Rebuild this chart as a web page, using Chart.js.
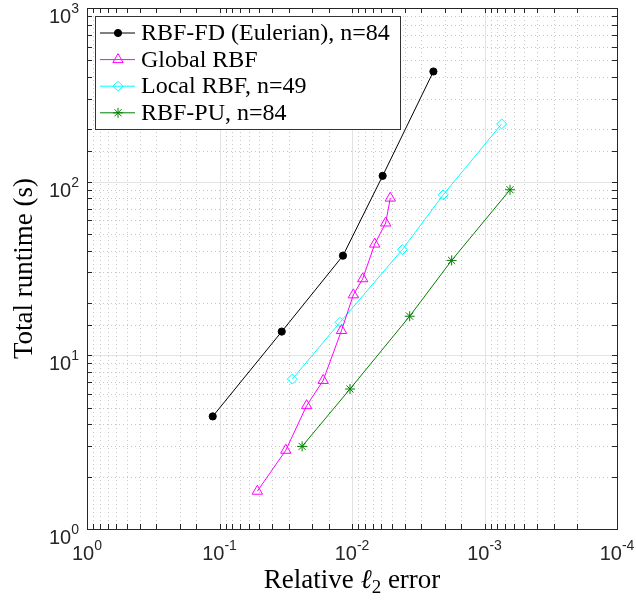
<!DOCTYPE html>
<html lang="en">
  <head>
    <meta charset="UTF-8" />
    <title>Total runtime vs relative error</title>
    <script src="https://cdn.jsdelivr.net/npm/chart.js"></script>
    <style>
      html,
      body {
        margin: 0;
        padding: 0;
        background: #fff;
      }
      .wrap {
        width: 636px;
        height: 600px;
      }
    </style>
  </head>
  <body>
    <div class="wrap"><canvas id="c" width="636" height="600"></canvas></div>

    <script>
      // values
      const fdErr = [0.1125, 0.0339, 0.0117, 0.00587, 0.00243];
      const fdTime = [4.45, 13.7, 37.5, 108, 431];
      const globalErr = [0.0518, 0.0316, 0.022, 0.0165, 0.012, 0.00977, 0.0083, 0.00674, 0.00557, 0.00514];
      const globalTime = [1.65, 2.84, 5.13, 7.17, 13.9, 22.3, 27.6, 43.7, 57.8, 80.4];
      const localErr = [0.0282, 0.0123, 0.00417, 0.00205, 0.000742];
      const localTime = [7.3, 15.5, 40.6, 84.0, 215];
      const puErr = [0.0238, 0.01035, 0.00367, 0.00177, 0.000642];
      const puTime = [2.99, 6.4, 16.8, 35.2, 89.8];

      const seriesNames = ["RBF-FD (Eulerian), n=84", "Global RBF", "Local RBF, n=49", "RBF-PU, n=84"];
      const xTickValues = [1, 0.1, 0.01, 0.001, 0.0001];
      const xTickExps = ["0", "-1", "-2", "-3", "-4"];
      const yTickValues = [1, 10, 100, 1000];
      const yTickExps = ["0", "1", "2", "3"];

      function pts(xs, ys) {
        return xs.map((x, i) => ({ x: x, y: ys[i] }));
      }

      const SERIF = '"Liberation Serif", "DejaVu Serif", serif';
      const SANS = '"Liberation Sans", Arial, sans-serif';
      const AXIS = "#262626";

      const matlabAxes = {
        id: "matlabAxes",
        beforeDatasetsDraw(chart) {
          const ctx = chart.ctx;
          const a = chart.chartArea;
          const xs = chart.scales.x;
          const ys = chart.scales.y;
          const isMajor = (v) => Math.abs(Math.log10(v) - Math.round(Math.log10(v))) < 1e-6;
          ctx.save();
          ctx.lineWidth = 1;
          // minor dotted grid first, then major solid
          [false, true].forEach((major) => {
            ctx.strokeStyle = major ? "#e3e3e3" : "#c8c8c8";
            ctx.setLineDash(major ? [] : [1, 3]);
            xs.ticks.forEach((t) => {
              if (isMajor(t.value) !== major) return;
              const px = Math.round(xs.getPixelForValue(t.value)) + 0.5;
              ctx.beginPath();
              ctx.moveTo(px, a.top);
              ctx.lineTo(px, a.bottom);
              ctx.stroke();
            });
            ys.ticks.forEach((t) => {
              if (isMajor(t.value) !== major) return;
              const py = Math.round(ys.getPixelForValue(t.value)) + 0.5;
              ctx.beginPath();
              ctx.moveTo(a.left, py);
              ctx.lineTo(a.right, py);
              ctx.stroke();
            });
          });
          ctx.restore();
        },
        afterDatasetsDraw(chart) {
          const ctx = chart.ctx;
          const a = chart.chartArea;
          const xs = chart.scales.x;
          const ys = chart.scales.y;
          ctx.save();
          ctx.setLineDash([]);
          ctx.strokeStyle = AXIS;
          ctx.lineWidth = 1;

          // inward tick marks on all four sides
          xs.ticks.forEach((t) => {
            const px = Math.round(xs.getPixelForValue(t.value)) + 0.5;
            ctx.beginPath();
            ctx.moveTo(px, a.bottom);
            ctx.lineTo(px, a.bottom - 5);
            ctx.moveTo(px, a.top);
            ctx.lineTo(px, a.top + 5);
            ctx.stroke();
          });
          ys.ticks.forEach((t) => {
            const py = Math.round(ys.getPixelForValue(t.value)) + 0.5;
            ctx.beginPath();
            ctx.moveTo(a.left, py);
            ctx.lineTo(a.left + 5, py);
            ctx.moveTo(a.right, py);
            ctx.lineTo(a.right - 5, py);
            ctx.stroke();
          });
          ctx.strokeRect(Math.round(a.left) + 0.5, Math.round(a.top) + 0.5, Math.round(a.right - a.left), Math.round(a.bottom - a.top));

          // tick labels 10^n
          ctx.fillStyle = "#262626";
          ctx.textBaseline = "alphabetic";
          ctx.textAlign = "left";
          const baseFont = "20px " + SANS;
          const expFont = "14px " + SANS;
          xTickValues.forEach((v, i) => {
            const px = xs.getPixelForValue(v);
            ctx.font = baseFont;
            const w1 = ctx.measureText("10").width;
            ctx.font = expFont;
            const w2 = ctx.measureText(xTickExps[i]).width;
            const x0 = px - (w1 + w2) / 2;
            ctx.font = baseFont;
            ctx.fillText("10", x0, 560);
            ctx.font = expFont;
            ctx.fillText(xTickExps[i], x0 + w1, 550);
          });
          yTickValues.forEach((v, i) => {
            const py = ys.getPixelForValue(v);
            ctx.font = expFont;
            const w2 = ctx.measureText(yTickExps[i]).width;
            ctx.font = baseFont;
            const w1 = ctx.measureText("10").width;
            const x0 = 79 - w2 - w1;
            ctx.fillText("10", x0, py + 15);
            ctx.font = expFont;
            ctx.fillText(yTickExps[i], x0 + w1, py + 5);
          });

          // axis titles
          ctx.fillStyle = "#000";
          const labelSize = 27;
          const cx = (a.left + a.right) / 2;
          const p1 = "Relative ";
          const p2 = "\u2113";
          const p3 = "2";
          const p4 = " error";
          const fMain = labelSize + "px " + SERIF;
          const fEll = "italic " + labelSize + "px " + SERIF;
          const fSub = Math.round(labelSize * 0.7) + "px " + SERIF;
          ctx.font = fMain;
          const w1 = ctx.measureText(p1).width;
          ctx.font = fEll;
          const w2 = ctx.measureText(p2).width;
          ctx.font = fSub;
          const w3 = ctx.measureText(p3).width;
          ctx.font = fMain;
          const w4 = ctx.measureText(p4).width;
          let tx = cx - (w1 + w2 + w3 + w4) / 2;
          const by = 588;
          ctx.fillText(p1, tx, by);
          tx += w1;
          ctx.font = fEll;
          ctx.fillText(p2, tx, by);
          tx += w2;
          ctx.font = fSub;
          ctx.fillText(p3, tx, by + 5);
          tx += w3;
          ctx.font = fMain;
          ctx.fillText(p4, tx, by);

          ctx.save();
          ctx.translate(25, (a.top + a.bottom) / 2);
          ctx.rotate(-Math.PI / 2);
          ctx.textAlign = "center";
          ctx.textBaseline = "middle";
          ctx.font = fMain;
          ctx.fillText("Total runtime (s)", 0, 0);
          ctx.restore();

          // legend box inside the axes
          const lx = 95.5, ly = 16.5, lw = 305, lh = 113;
          ctx.fillStyle = "#fff";
          ctx.fillRect(lx, ly, lw, lh);
          ctx.strokeStyle = "#333";
          ctx.strokeRect(lx, ly, lw, lh);
          chart.data.datasets.forEach((ds, i) => {
            const y = 33 + i * 26.6;
            ctx.strokeStyle = ds.borderColor;
            ctx.lineWidth = 1;
            ctx.beginPath();
            ctx.moveTo(100, y);
            ctx.lineTo(135, y);
            ctx.stroke();
            ctx.fillStyle = ds.pointBackgroundColor;
            ctx.strokeStyle = ds.borderColor;
            Chart.helpers.drawPoint(
              ctx,
              {
                pointStyle: ds.pointStyle,
                radius: ds.pointRadius,
                borderWidth: 1,
                rotation: 0,
              },
              118,
              y
            );
            ctx.fillStyle = "#000";
            ctx.font = "24px " + SERIF;
            ctx.textAlign = "left";
            ctx.textBaseline = "middle";
            ctx.fillText(seriesNames[i], 141, y + 1);
          });
          ctx.restore();
        },
      };

      const ctx = document.getElementById("c").getContext("2d");
      const chart = new Chart(ctx, {
        type: "scatter",
        data: {
          datasets: [
            {
              label: seriesNames[0],
              data: pts(fdErr, fdTime),
              showLine: true,
              borderColor: "#000000",
              backgroundColor: "#000000",
              pointBackgroundColor: "#000000",
              borderWidth: 1,
              pointStyle: "circle",
              pointRadius: 3.6,
              pointBorderWidth: 1,
            },
            {
              label: seriesNames[1],
              data: pts(globalErr, globalTime),
              showLine: true,
              borderColor: "#ff00ff",
              backgroundColor: "rgba(0,0,0,0)",
              pointBackgroundColor: "rgba(0,0,0,0)",
              borderWidth: 1,
              pointStyle: "triangle",
              pointRadius: 6,
              pointBorderWidth: 1,
            },
            {
              label: seriesNames[2],
              data: pts(localErr, localTime),
              showLine: true,
              borderColor: "#00ffff",
              backgroundColor: "rgba(0,0,0,0)",
              pointBackgroundColor: "rgba(0,0,0,0)",
              borderWidth: 1,
              pointStyle: "rectRot",
              pointRadius: 5,
              pointBorderWidth: 1,
            },
            {
              label: seriesNames[3],
              data: pts(puErr, puTime),
              showLine: true,
              borderColor: "#008000",
              backgroundColor: "#008000",
              pointBackgroundColor: "rgba(0,0,0,0)",
              borderWidth: 1,
              pointStyle: "star",
              pointRadius: 5,
              pointBorderWidth: 1,
            },
          ],
        },
        options: {
          responsive: false,
          animation: false,
          layout: { padding: { left: 87, right: 19, top: 8, bottom: 71 } },
          plugins: {
            legend: { display: false },
            tooltip: { enabled: false },
          },
          scales: {
            x: {
              type: "logarithmic",
              reverse: true,
              min: 0.0001,
              max: 1,
              grid: { display: false, drawTicks: false, tickLength: 0 },
              border: { display: false },
              ticks: { display: false },
            },
            y: {
              type: "logarithmic",
              min: 1,
              max: 1000,
              grid: { display: false, drawTicks: false, tickLength: 0 },
              border: { display: false },
              ticks: { display: false },
            },
          },
        },
        plugins: [matlabAxes],
      });
    </script>
  </body>
</html>
